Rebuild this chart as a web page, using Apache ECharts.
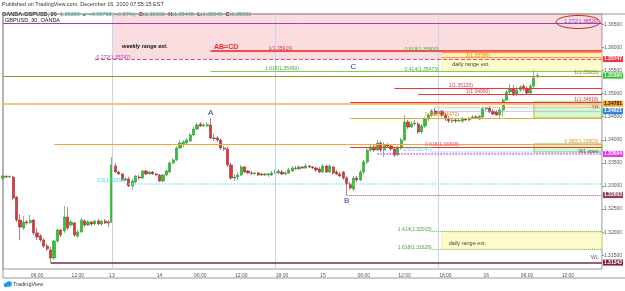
<!DOCTYPE html>
<html>
<head>
<meta charset="utf-8">
<script src="https://cdn.jsdelivr.net/npm/echarts@6/dist/echarts.min.js"></script>
<style>
    html, body { margin: 0; padding: 0; background: #fff; }
    #chart { width: 625px; height: 291px; }
</style>
</head>
<body>
<div id="chart"></div>
<script>
// 30 minute sessions: [day, first bar, bar count]
const sessions = [['11', '01:00', 32], ['13', '17:00', 14], ['14', '00:00', 48], ['15', '00:00', 48], ['16', '00:00', 35]]

// time scale labels
const timeTicks = ['11 06:00', '11 12:00', '13 17:00', '14 00:00', '14 06:00', '14 12:00', '14 18:00',
    '15 00:00', '15 06:00', '15 12:00', '15 18:00', '16 00:00', '16 06:00', '16 12:00']
const timeTickText = ['06:00', '12:00', '13', '14', '06:00', '12:00', '18:00', '15', '06:00', '12:00', '18:00', '16', '06:00', '12:00']

// price scale
const priceTicks = [1.315, 1.32, 1.325, 1.33, 1.335, 1.34, 1.345, 1.35, 1.355, 1.36, 1.365]
const yMin = 1.31203
const yMax = 1.36723

// GBPUSD 30m candles
const opens = [
    1.33173, 1.33206, 1.33195, 1.33195, 1.32762, 1.32264, 1.32091, 1.32221, 1.32210, 1.32264,
    1.31983, 1.31918, 1.31831, 1.31701, 1.31615, 1.31441, 1.31810, 1.32048, 1.32026, 1.32329,
    1.32156, 1.32199, 1.31918, 1.32005, 1.32243, 1.32156, 1.32221, 1.32178, 1.32243, 1.32178,
    1.32243, 1.32221, 1.32221, 1.33433, 1.33303, 1.33260, 1.33130, 1.33152, 1.33000, 1.33087,
    1.33195, 1.33173, 1.33325, 1.33260, 1.33303, 1.33260, 1.33238, 1.33108, 1.33238, 1.33303,
    1.33498, 1.33563, 1.33823, 1.33888, 1.33931, 1.33974, 1.34104, 1.34234, 1.34342, 1.34299,
    1.34299, 1.34320, 1.34039, 1.34039, 1.33996, 1.33823, 1.33801, 1.33455, 1.33173, 1.33195,
    1.33238, 1.33412, 1.33325, 1.33282, 1.33271, 1.33282, 1.33260, 1.33238, 1.33238, 1.33238,
    1.33282, 1.33282, 1.33303, 1.33260, 1.33282, 1.33325, 1.33390, 1.33368, 1.33412, 1.33390,
    1.33433, 1.33412, 1.33390, 1.33368, 1.33303, 1.33433, 1.33303, 1.33412, 1.33303, 1.33260,
    1.33303, 1.33173, 1.33044, 1.32935, 1.33173, 1.33130, 1.33303, 1.33520, 1.33779, 1.33844,
    1.33779, 1.33931, 1.33779, 1.33888, 1.33866, 1.33801, 1.33671, 1.33823, 1.33996, 1.34385,
    1.34277, 1.34342, 1.34342, 1.34169, 1.34299, 1.34450, 1.34537, 1.34623, 1.34559, 1.34623,
    1.34537, 1.34450, 1.34407, 1.34429, 1.34407, 1.34407, 1.34450, 1.34429, 1.34472, 1.34494,
    1.34450, 1.34494, 1.34667, 1.34688, 1.34623, 1.34602, 1.34537, 1.34645, 1.34861, 1.35035,
    1.35100, 1.34991, 1.35078, 1.35164, 1.35100, 1.35013, 1.35164, 1.35362
]
const closes = [
    1.33217, 1.33195, 1.33206, 1.32740, 1.32264, 1.32113, 1.32221, 1.32199, 1.32253, 1.31983,
    1.31896, 1.31831, 1.31701, 1.31636, 1.31441, 1.31810, 1.32048, 1.31940, 1.32329, 1.32091,
    1.32221, 1.31940, 1.32005, 1.32264, 1.32156, 1.32221, 1.32178, 1.32243, 1.32178, 1.32243,
    1.32199, 1.32199, 1.33455, 1.33303, 1.33260, 1.33130, 1.33152, 1.33000, 1.33108, 1.33217,
    1.33173, 1.33325, 1.33260, 1.33303, 1.33260, 1.33238, 1.33108, 1.33238, 1.33325, 1.33498,
    1.33563, 1.33823, 1.33931, 1.33953, 1.33996, 1.34104, 1.34234, 1.34320, 1.34299, 1.34320,
    1.34331, 1.34039, 1.34028, 1.33996, 1.33823, 1.33801, 1.33455, 1.33173, 1.33195, 1.33238,
    1.33412, 1.33303, 1.33282, 1.33271, 1.33282, 1.33238, 1.33238, 1.33260, 1.33260, 1.33282,
    1.33303, 1.33325, 1.33260, 1.33282, 1.33347, 1.33390, 1.33379, 1.33412, 1.33390, 1.33433,
    1.33412, 1.33390, 1.33347, 1.33303, 1.33433, 1.33303, 1.33433, 1.33282, 1.33260, 1.33217,
    1.33173, 1.33044, 1.32957, 1.33173, 1.33130, 1.33303, 1.33520, 1.33779, 1.33844, 1.33779,
    1.33931, 1.33779, 1.33888, 1.33866, 1.33801, 1.33671, 1.33823, 1.33996, 1.34385, 1.34277,
    1.34342, 1.34364, 1.34169, 1.34299, 1.34450, 1.34537, 1.34623, 1.34559, 1.34623, 1.34537,
    1.34450, 1.34407, 1.34429, 1.34407, 1.34418, 1.34450, 1.34429, 1.34472, 1.34494, 1.34483,
    1.34505, 1.34667, 1.34688, 1.34602, 1.34559, 1.34537, 1.34645, 1.34861, 1.35035, 1.35100,
    1.34970, 1.35078, 1.35143, 1.35100, 1.35013, 1.35164, 1.35338, 1.35390
]
const lows = [
    1.33130, 1.33173, 1.33173, 1.32697, 1.32221, 1.31831, 1.32048, 1.32156, 1.32178, 1.31940,
    1.31831, 1.31788, 1.31658, 1.31593, 1.31342, 1.31398, 1.31766, 1.31896, 1.31983, 1.32048,
    1.32113, 1.31896, 1.31875, 1.31983, 1.32113, 1.32134, 1.32134, 1.32156, 1.32156, 1.32134,
    1.32178, 1.32113, 1.32199, 1.33282, 1.33238, 1.33108, 1.33108, 1.32979, 1.32914, 1.33044,
    1.33130, 1.33152, 1.33238, 1.33238, 1.33238, 1.33217, 1.33087, 1.33087, 1.33217, 1.33282,
    1.33476, 1.33541, 1.33801, 1.33844, 1.33909, 1.33953, 1.34082, 1.34212, 1.34277, 1.34277,
    1.34277, 1.34018, 1.33974, 1.33953, 1.33779, 1.33758, 1.33412, 1.33130, 1.33108, 1.33130,
    1.33217, 1.33282, 1.33260, 1.33238, 1.33238, 1.33217, 1.33217, 1.33217, 1.33195, 1.33217,
    1.33260, 1.33260, 1.33238, 1.33238, 1.33260, 1.33303, 1.33347, 1.33347, 1.33368, 1.33368,
    1.33390, 1.33368, 1.33303, 1.33282, 1.33282, 1.33282, 1.33282, 1.33238, 1.33238, 1.33195,
    1.33130, 1.32803, 1.32914, 1.32892, 1.33087, 1.33108, 1.33260, 1.33476, 1.33736, 1.33736,
    1.33758, 1.33736, 1.33628, 1.33823, 1.33758, 1.33628, 1.33650, 1.33779, 1.33974, 1.34234,
    1.34256, 1.34299, 1.34126, 1.34126, 1.34256, 1.34407, 1.34494, 1.34515, 1.34515, 1.34494,
    1.34407, 1.34364, 1.34364, 1.34364, 1.34385, 1.34364, 1.34407, 1.34407, 1.34450, 1.34450,
    1.34429, 1.34450, 1.34623, 1.34580, 1.34537, 1.34515, 1.34472, 1.34494, 1.34840, 1.34991,
    1.34948, 1.34948, 1.35035, 1.35056, 1.34970, 1.34970, 1.35121, 1.35349
]
const highs = [
    1.33238, 1.33238, 1.33228, 1.33217, 1.32784, 1.32394, 1.32351, 1.32264, 1.32372, 1.32286,
    1.32091, 1.31961, 1.31875, 1.31745, 1.31680, 1.31831, 1.32091, 1.32070, 1.32567, 1.32545,
    1.32264, 1.32221, 1.32048, 1.32307, 1.32286, 1.32264, 1.32243, 1.32264, 1.32286, 1.32264,
    1.32286, 1.32264, 1.33628, 1.33498, 1.33325, 1.33282, 1.33195, 1.33195, 1.33152, 1.33238,
    1.33238, 1.33347, 1.33347, 1.33325, 1.33325, 1.33282, 1.33260, 1.33260, 1.33347, 1.33541,
    1.33606, 1.33866, 1.33996, 1.33996, 1.34039, 1.34147, 1.34277, 1.34364, 1.34385, 1.34364,
    1.34385, 1.34472, 1.34126, 1.34082, 1.34018, 1.33866, 1.33844, 1.33498, 1.33260, 1.33303,
    1.33455, 1.33433, 1.33347, 1.33325, 1.33303, 1.33303, 1.33282, 1.33282, 1.33282, 1.33325,
    1.33347, 1.33368, 1.33347, 1.33325, 1.33390, 1.33433, 1.33433, 1.33455, 1.33433, 1.33476,
    1.33455, 1.33433, 1.33412, 1.33412, 1.33476, 1.33455, 1.33476, 1.33433, 1.33347, 1.33303,
    1.33325, 1.33217, 1.33087, 1.33217, 1.33217, 1.33347, 1.33563, 1.33823, 1.33888, 1.33909,
    1.33996, 1.33974, 1.33953, 1.33931, 1.33909, 1.33844, 1.33866, 1.34039, 1.34537, 1.34429,
    1.34407, 1.34429, 1.34385, 1.34342, 1.34494, 1.34580, 1.34667, 1.34688, 1.34667, 1.34645,
    1.34580, 1.34515, 1.34472, 1.34450, 1.34450, 1.34494, 1.34472, 1.34494, 1.34537, 1.34537,
    1.34537, 1.34710, 1.34710, 1.34732, 1.34667, 1.34645, 1.34688, 1.34905, 1.35078, 1.35208,
    1.35186, 1.35143, 1.35186, 1.35208, 1.35164, 1.35208, 1.35511, 1.35448
]

// horizontal drawings: price, first bar index, look
const levelPrices = [1.36520, 1.35919, 1.35900, 1.35780, 1.35747, 1.35490, 1.35385, 1.35120, 1.34990, 1.34818, 1.34781,
    1.34710, 1.34621, 1.34472, 1.33903, 1.33838, 1.33747, 1.33694, 1.33058, 1.32803, 1.32015, 1.31629, 1.31342]
const levelStarts = [0, 61, 129, 129, 27, 61, 0, 115, 122, 102, 0, 127, 128, 102, 15, 102, 126, 110, 36, 101, 126, 126, 14]
const levelLooks = ['purple', 'redThick', 'orangeRed', 'orange', 'pinkDash', 'green', 'olive', 'red', 'red', 'red', 'orangeBand',
    'orangeDot', 'blueDot', 'orange', 'orange', 'red', 'cyanDot', 'magentaDot', 'cyanDot', 'maroonDot', 'greenDot', 'greenDot', 'maroon']

// price tags on the scale
const tagPrices = [1.35747, 1.35390, 1.34781, 1.34621, 1.33694, 1.32803, 1.31342]
const tagBack = ['#f23645', '#22c322', '#f5a623', '#2b86d9', '#ea2ee8', '#8e3f5f', '#7a2145']
const tagFore = ['#fff', '#fff', '#222', '#fff', '#fff', '#fff', '#fff']

// boxes: from bar, to bar, top, bottom
const boxFrom = [32, 129, 156, 156, 129]
const boxTo = [176, 176, 176, 176, 176]
const boxTop = [yMax, 1.35900, 1.34818, 1.33909, 1.32005]
const boxBottom = [1.35747, 1.35473, 1.34472, 1.33736, 1.31640]
const boxLooks = ['pink', 'yellow', 'greenBox', 'greenBox', 'yellow']

// session breaks (17:00 New York)
const sessionBreaks = ['13 17:00', '14 17:00', '15 17:00']

// text notes: bar index, price, text
const noteIdx = [35, 62, 78, 27, 128, 136, 132, 128, 77, 103, 175, 131, 136, 175, 175, 124, 175, 124, 126, 175, 61, 36, 101, 126, 131, 126, 175, 175]
const notePrice = [1.36026, 1.36009, 1.35976, 1.35778, 1.35944, 1.35814, 1.35630, 1.35522, 1.35532, 1.35576, 1.35446, 1.35164,
    1.35035, 1.34861, 1.34688, 1.34537, 1.33959, 1.33888, 1.33790, 1.33747, 1.34580, 1.33108, 1.32675, 1.32048, 1.31766,
    1.31658, 1.31441, 1.36550]
const noteText = ['weekly range ext.', 'AB=CD', '1(1.35919)', '-0.272(1.35747)', '0.618(1.35900)', '1(1.35780)', 'daily range ext.',
    '0.414(1.35473)', '1.618(1.35490)', 'C', '1(1.35385)', '1(1.35120)', '1(1.34990)', '1(1.34818)', 'YH', '0.236(1.34472)',
    '0.382(1.33903)', '0.618(1.33838)', '0.5(1.33747)', 'W1 open', 'A', '0.5(1.33058)', 'B', '1.414(1.32015)', 'daily range ext.',
    '1.618(1.31629)', 'WL', '1.272(1.36520)']
const noteLook = ['caption', 'abcd', 'redL', 'purpleL', 'greenR', 'orangeL', 'thin', 'greenR', 'greenL', 'point', 'oliveR', 'redL',
    'redL', 'redR', 'darkR', 'orangeL', 'orangeR', 'pinkL', 'cyanR', 'darkR', 'point', 'cyanR', 'point', 'greenR', 'thin',
    'greenR', 'darkR', 'purpleR']

const LINE_LOOKS = {
    purple: { color: '#9c3fb8', width: 1, type: 'solid' },
    redThick: { color: '#f0504a', width: 2, type: 'solid' },
    orangeRed: { color: '#f27a3c', width: 1.5, type: 'solid' },
    orange: { color: '#f7a53b', width: 1, type: 'solid' },
    pinkDash: { color: '#e0507e', width: 1, type: 'dashed' },
    green: { color: '#7ccf5a', width: 1, type: 'solid' },
    olive: { color: '#9c961e', width: 1.2, type: 'solid' },
    red: { color: '#f0343c', width: 1, type: 'solid' },
    orangeBand: { color: '#f8c27e', width: 2, type: 'solid' },
    orangeDot: { color: '#f7a53b', width: 1, type: 'dotted' },
    blueDot: { color: '#86a9dc', width: 1, type: 'dotted' },
    cyanDot: { color: '#7ee6f4', width: 1.5, type: 'dotted' },
    magentaDot: { color: '#f03cf0', width: 1.5, type: 'dotted' },
    maroonDot: { color: '#a0506e', width: 1, type: 'dotted' },
    greenDot: { color: '#55c455', width: 1, type: 'dotted' },
    maroon: { color: '#7d2a4a', width: 1.5, type: 'solid' }
}
const BOX_LOOKS = {
    pink: { color: 'rgba(240,110,120,0.24)' },
    yellow: { color: 'rgba(252,246,170,0.6)', borderColor: '#f2ea7a', borderWidth: 0.6 },
    greenBox: { color: 'rgba(150,225,120,0.35)', borderColor: '#76cf4c', borderWidth: 1 }
}
const NOTE_LOOKS = {
    caption: { color: '#111', fontSize: 5.5, fontWeight: 'bold', fontStyle: 'italic', align: 'left' },
    thin: { color: '#444', fontSize: 5.5, align: 'left' },
    abcd: { color: '#f0282e', fontSize: 7, fontWeight: 'bold', align: 'left' },
    redL: { color: '#e8343c', fontSize: 5, align: 'left' },
    redR: { color: '#e8343c', fontSize: 5, align: 'right' },
    pinkL: { color: '#e8507a', fontSize: 5, align: 'left' },
    purpleL: { color: '#9c3fb8', fontSize: 5, align: 'left' },
    purpleR: { color: '#9c3fb8', fontSize: 5, align: 'right' },
    greenL: { color: '#4aa83a', fontSize: 5, align: 'left' },
    greenR: { color: '#4aa83a', fontSize: 5, align: 'right' },
    orangeL: { color: '#f08a1c', fontSize: 5, align: 'left' },
    orangeR: { color: '#f08a1c', fontSize: 5, align: 'right' },
    oliveR: { color: '#8c8a1a', fontSize: 5, align: 'right' },
    cyanR: { color: '#3fd6ea', fontSize: 5, align: 'right' },
    darkR: { color: '#555', fontSize: 5, align: 'right' },
    point: { color: '#2c2cc8', fontSize: 8, align: 'center' }
}

const categories = []
const pad = n => (n < 10 ? '0' : '') + n
sessions.forEach(([day, start, count]) => {
    const [h, m] = start.split(':').map(Number)
    for (let k = 0; k < count; k++) {
        const t = h * 60 + m + k * 30
        categories.push(`${day} ${pad(Math.floor(t / 60))}:${pad(t % 60)}`)
    }
})
const lastIdx = categories.length - 1
const candles = opens.map((o, i) => [o, closes[i], lows[i], highs[i]])

const chart = echarts.init(document.getElementById('chart'))

const levelData = levelPrices.map((p, k) => [
    { coord: [categories[levelStarts[k]], p], lineStyle: LINE_LOOKS[levelLooks[k]] },
    { coord: [categories[lastIdx], p] }
])
const breakData = sessionBreaks.map(c => ({ xAxis: c, lineStyle: { color: '#c9d5ec', width: 1, type: 'solid' } }))
const tagData = tagPrices.map((p, k) => ({
    yAxis: p,
    lineStyle: { color: 'rgba(0,0,0,0)', width: 1 },
    label: {
        show: true,
        position: 'end',
        distance: 1,
        formatter: p.toFixed(5),
        backgroundColor: tagBack[k],
        color: tagFore[k],
        fontSize: 5,
        fontWeight: 'bold',
        padding: [1, 1, 0, 1]
    }
}))
const boxData = boxFrom.map((f, k) => [
    { xAxis: categories[f], yAxis: boxTop[k], itemStyle: BOX_LOOKS[boxLooks[k]] },
    { xAxis: categories[boxTo[k]], yAxis: boxBottom[k] }
])
const noteData = noteText.map((t, k) => ({
    coord: [categories[noteIdx[k]], notePrice[k]],
    label: Object.assign({ show: true, position: 'inside', formatter: t, verticalAlign: 'middle' }, NOTE_LOOKS[noteLook[k]])
}))

const option = {
    animation: false,
    backgroundColor: '#fff',
    textStyle: { fontFamily: 'Liberation Sans, Arial, sans-serif' },
    grid: { left: 3, right: 21, top: 14, bottom: 22, show: true, borderColor: '#9a9a9a', borderWidth: 1 },
    xAxis: {
        type: 'category',
        data: categories,
        boundaryGap: false,
        axisLine: { show: false },
        axisTick: { show: false },
        splitLine: { show: false },
        axisLabel: {
            interval: (i, v) => timeTicks.includes(v),
            formatter: v => timeTickText[timeTicks.indexOf(v)],
            fontSize: 5,
            color: '#555',
            margin: 4
        }
    },
    yAxis: {
        type: 'value',
        position: 'right',
        min: yMin,
        max: yMax,
        splitLine: { show: false },
        axisLine: { show: false },
        axisTick: { show: true, length: 2, customValues: priceTicks, lineStyle: { color: '#888' } },
        axisLabel: { customValues: priceTicks, formatter: v => v.toFixed(5), fontSize: 5, color: '#555', margin: 2 }
    },
    series: [
        {
            name: 'boxes',
            type: 'line',
            data: [],
            z: 1,
            clip: false,
            markArea: { silent: true, data: boxData }
        },
        {
            name: 'GBPUSD',
            type: 'candlestick',
            data: candles,
            z: 2,
            barWidth: '78%',
            itemStyle: {
                color: '#22d022',
                color0: '#ea3238',
                borderColor: '#3d8a3d',
                borderColor0: '#8e3030',
                borderWidth: 0.6
            },
            markLine: {
                silent: true,
                symbol: ['none', 'none'],
                label: { show: false },
                data: breakData
            }
        },
        {
            name: 'levels',
            type: 'line',
            data: [],
            z: 3,
            clip: false,
            markLine: {
                silent: true,
                precision: 5,
                symbol: ['none', 'none'],
                label: { show: false },
                data: levelData
            }
        },
        {
            name: 'notes',
            type: 'line',
            data: [],
            z: 4,
            clip: false,
            markPoint: {
                silent: true,
                symbol: 'rect',
                symbolSize: 1,
                itemStyle: { color: 'rgba(0,0,0,0)' },
                data: noteData
            }
        },
        {
            name: 'tags',
            type: 'line',
            data: [],
            z: 5,
            clip: false,
            markLine: {
                silent: true,
                precision: 5,
                symbol: ['none', 'none'],
                data: tagData
            }
        }
    ],
    graphic: [
        {
            id: 'published', type: 'text', left: 2, top: 1,
            style: { text: 'Published on TradingView.com, December 16, 2020 07:55:15 EST', fontSize: 5.5, fill: '#333', fontFamily: 'Liberation Sans' }
        },
        {
            id: 'legend', type: 'text', left: 2, top: 8,
            style: {
                text: '{s|OANDA:GBPUSD, 30} {v|1.35390 ▲ +0.00768 (+0.57%)} {s|O:}{v|1.35362} {s|H:}{v|1.35448} {s|L:}{v|1.35349} {s|C:}{v|1.35390}',
                fontFamily: 'Liberation Sans',
                rich: {
                    s: { fontSize: 5.5, fill: '#222', fontWeight: 'bold' },
                    v: { fontSize: 5.5, fill: '#22a89a' }
                }
            }
        },
        {
            id: 'pane', type: 'text', left: 5, top: 17,
            style: { text: 'GBPUSD, 30, OANDA', fontSize: 5.5, fill: '#111', fontFamily: 'Liberation Sans' }
        },
        {
            id: 'frame', type: 'rect', silent: true,
            shape: { x: 3, y: 14, width: 640, height: 264 },
            style: { fill: 'none', stroke: '#9a9a9a', lineWidth: 1 }
        },
        { id: 'logo1', type: 'circle', shape: { cx: 6, cy: 285, r: 2.2 }, style: { fill: '#2196f3' } },
        { id: 'logo2', type: 'circle', shape: { cx: 9, cy: 284, r: 2.8 }, style: { fill: '#2196f3' } },
        {
            id: 'logoText', type: 'text', left: 13, top: 281,
            style: { text: 'TradingView', fontSize: 5.5, fill: '#333', fontFamily: 'Liberation Sans' }
        }
    ]
}

chart.setOption(option)

// red ellipse around the 1.272 extension label
const ringAt = chart.convertToPixel({ gridIndex: 0 }, [categories[169], notePrice[27]])
chart.setOption({
    graphic: [{
        id: 'ring', type: 'ellipse', silent: true, z: 20,
        shape: { cx: ringAt[0], cy: ringAt[1], rx: 22, ry: 6.5 },
        style: { fill: 'none', stroke: '#c62828', lineWidth: 1 }
    }]
})

window.addEventListener('resize', () => chart.resize())
</script>
</body>
</html>
